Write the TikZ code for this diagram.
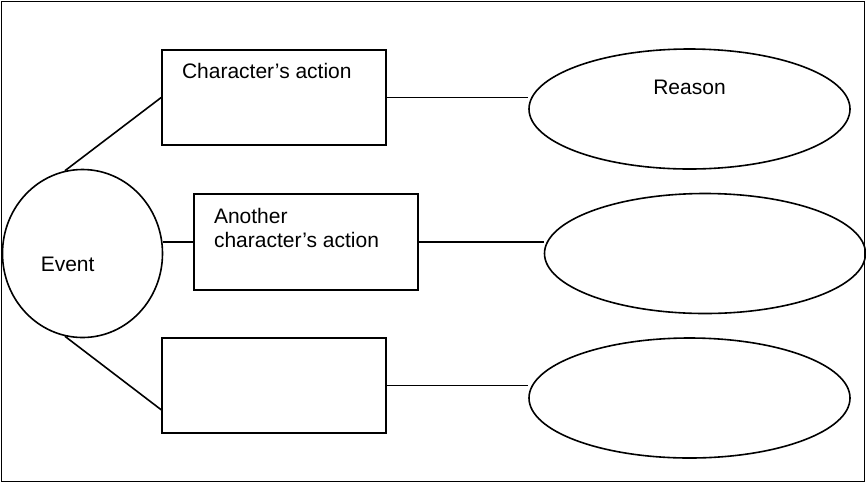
\documentclass[tikz,border=0pt]{standalone}
\usepackage{fontspec}
\setmainfont{Liberation Sans}
\usepackage{tikz}
\usetikzlibrary{calc,shapes.geometric}

\begin{document}
\begin{tikzpicture}[x=1pt,y=-1pt,line width=1.6pt,
  actbox/.style={draw,rectangle,minimum width=224,minimum height=95.5,inner sep=0},
  reasonoval/.style={draw,ellipse,minimum width=321,minimum height=120,inner sep=0},
  eventoval/.style={draw,ellipse,minimum width=160,minimum height=168,inner sep=0},
  lbl/.style={inner sep=0,font=\fontsize{21}{24}\selectfont}]
\useasboundingbox (0,0) rectangle (866,483);
\draw (1.5,1.5) rectangle (864.5,481.5);
\node [eventoval] (event) at (82.5,253.5) {};
\node [lbl,anchor=base west] at ($(event.center)+(-42.5,17.5)$) {Event};
\node [actbox] (act1) at (274,97.5) {};
\node [lbl,anchor=base west] at ($(act1.north west)+(20,30)$) {Character's action};
\node [actbox] (act2) at (306,242) {};
\node [lbl,anchor=base west,align=left] at ($(act2.north west)+(20,54)$) {Another\\character's action};
\node [actbox] (act3) at (274,385.5) {};
\node [reasonoval] (reason1) at (689.5,109) {};
\node [lbl,anchor=base] at ($(reason1.north)+(0,46)$) {Reason};
\node [reasonoval] (reason2) at (705,253.5) {};
\node [reasonoval] (reason3) at (689.5,398) {};
\draw (event.102) -- (act1.west);
\draw (event.east |- act2.west) -- (act2.west);
\draw (event.258) -- ($(act3.south west)!0.25!(act3.north west)$);
\draw (act1.east) -- (reason1.west |- act1.east);
\draw (act2.east) -- (reason2.west |- act2.east);
\draw (act3.east) -- (reason3.west |- act3.east);
\end{tikzpicture}
\end{document}
